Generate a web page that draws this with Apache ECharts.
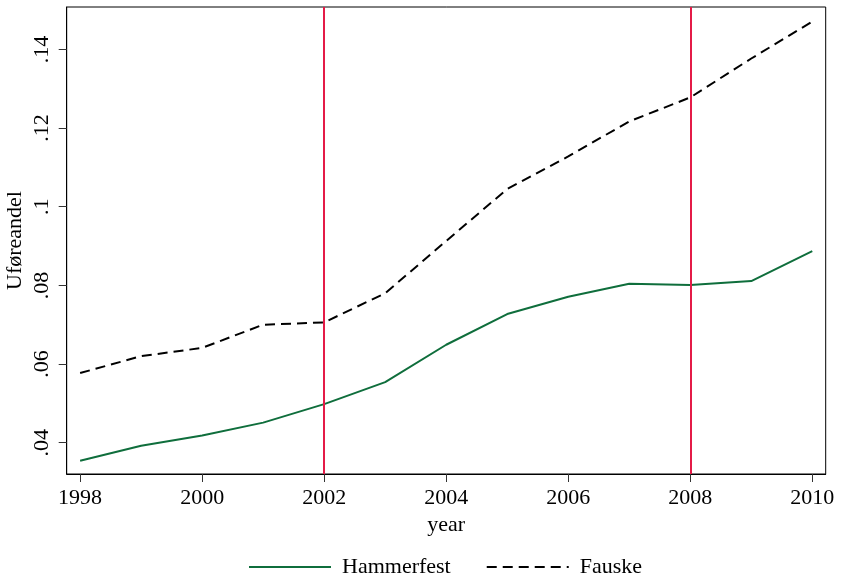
<!DOCTYPE html>
<html><head><meta charset="utf-8">
<script src="https://cdn.jsdelivr.net/npm/echarts@6/dist/echarts.min.js"></script>
<style>html,body{margin:0;padding:0;background:#fff}#c{width:841px;height:580px}</style>
</head><body><div id="c"></div>
<script>
const years = [1998,1999,2000,2001,2002,2003,2004,2005,2006,2007,2008,2009,2010];
const hammerfest = [0.0354,0.0392,0.0418,0.0451,0.0498,0.0554,0.0649,0.0727,0.0771,0.0804,0.0801,0.0811,0.0887];
const fauske = [0.0577,0.0620,0.0641,0.0700,0.0706,0.0780,0.0913,0.1045,0.1128,0.1217,0.1278,0.1377,0.1471];
const xTicks = [1998,2000,2002,2004,2006,2008,2010];
const yTicks = [0.04,0.06,0.08,0.10,0.12,0.14];
const refYears = [2002,2008];

const font = 'Liberation Serif';
const fs = 22;
const chart = echarts.init(document.getElementById('c'));
chart.setOption({
  animation:false,
  textStyle:{fontFamily:font},
  grid:{left:66.7,right:15.3,top:7,bottom:106,outerBoundsMode:'none',containLabel:false,show:true,borderColor:'#000',borderWidth:1,backgroundColor:'#fff'},
  xAxis:{type:'value',min:1997.78,max:2010.22,name:'year',nameLocation:'middle',nameGap:37,
    nameTextStyle:{fontSize:fs,color:'#000',fontFamily:font},
    axisLine:{show:true,lineStyle:{color:'#000',width:1}},
    axisTick:{show:true,customValues:xTicks,length:8,lineStyle:{color:'#333'}},
    axisLabel:{customValues:xTicks,fontSize:fs,color:'#000',margin:13,fontFamily:font,formatter:v=>String(v)},
    splitLine:{show:false}},
  yAxis:{type:'value',min:0.03203,max:0.1508,name:'Uføreandel',nameLocation:'middle',nameGap:40,nameMoveOverlap:false,
    nameTextStyle:{fontSize:fs,color:'#000',fontFamily:font},
    axisLine:{show:true,lineStyle:{color:'#000',width:1}},
    axisTick:{show:true,customValues:yTicks,length:8,lineStyle:{color:'#333'}},
    axisLabel:{customValues:yTicks,rotate:90,fontSize:fs,color:'#000',margin:13,fontFamily:font,
      formatter:v=>String(+(+v).toFixed(2)).replace(/^0/,'')},
    splitLine:{show:false}},
  legend:{bottom:-3,left:243,itemWidth:82,itemHeight:14,itemGap:35,itemTextGap:13,
    itemStyle:{opacity:0},
    textStyle:{fontSize:fs,color:'#000',fontFamily:font,padding:[0,0,0,6]},
    data:['Hammerfest','Fauske']},
  series:[
    {name:'Hammerfest',type:'line',symbol:'none',data:years.map((y,i)=>[y,hammerfest[i]]),
      lineStyle:{color:'#0f6e3c',width:2},itemStyle:{color:'#0f6e3c'},z:3,
      markLine:{silent:true,symbol:'none',label:{show:false},
        lineStyle:{color:'#e41b47',width:2,type:'solid'},
        data:refYears.map(y=>({xAxis:y}))}},
    {name:'Fauske',type:'line',symbol:'none',data:years.map((y,i)=>[y,fauske[i]]),
      lineStyle:{color:'#000',width:2,type:[10,6]},itemStyle:{color:'#000'},z:3}
  ]
});
</script></body></html>
